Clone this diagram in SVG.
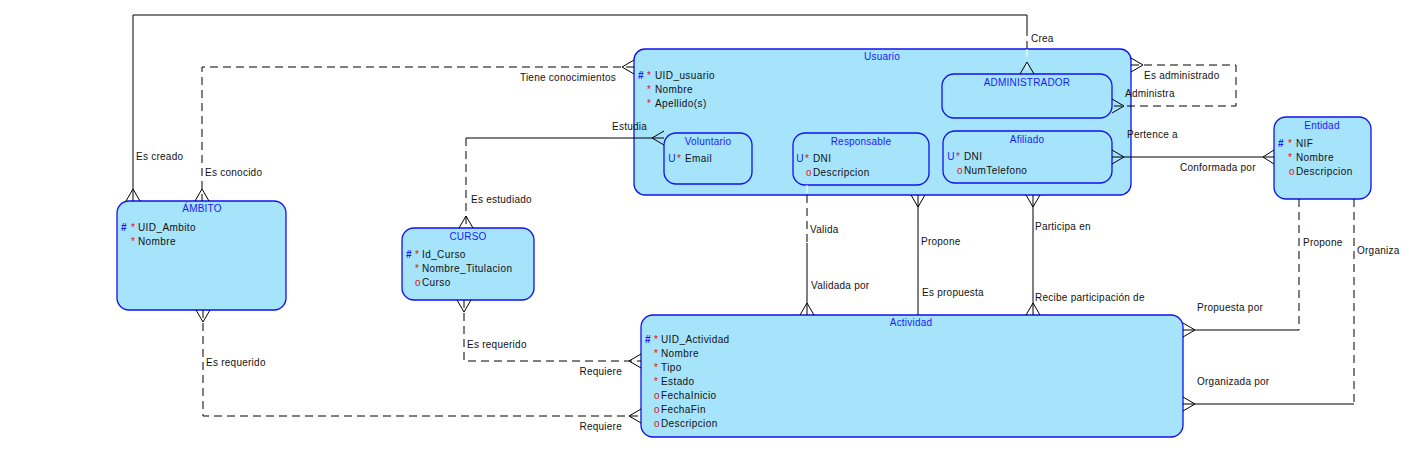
<svg xmlns="http://www.w3.org/2000/svg" width="1422" height="459" viewBox="0 0 1422 459">
<style>
.ent{fill:#a6e4fc;stroke:#1010f0;stroke-width:1.3}
.sub{fill:#a6e4fc;stroke:#1010f0;stroke-width:1.3}
.t{font-family:"Liberation Sans",Arial,sans-serif;font-size:10px;fill:#1a1aff;text-anchor:middle;letter-spacing:0.2px}
.a{font-family:"Liberation Sans",Arial,sans-serif;font-size:10px;fill:#111;letter-spacing:0.4px}
.b{font-family:"Liberation Sans",Arial,sans-serif;font-size:10px;fill:#1a1aff;font-weight:bold}
.r{font-family:"Liberation Sans",Arial,sans-serif;font-size:10px;fill:#e01010}
.l{font-family:"Liberation Sans",Arial,sans-serif;font-size:10px;fill:#111;letter-spacing:0.25px}
.s{fill:none;stroke:#000;stroke-width:1}
.d{fill:none;stroke:#000;stroke-width:1;stroke-dasharray:8,5}
.w{fill:none;stroke:#fff;stroke-width:1;stroke-dasharray:8,5}
.cf{fill:none;stroke:#000;stroke-width:1}
</style>
<rect width="1422" height="459" fill="#fff"/>

<g id="usuario">
<rect class="ent" x="634" y="49" width="497" height="146" rx="11"/>
<text class="t" x="882" y="60">Usuario</text>
<text class="b" x="638" y="78.5">#</text><text class="r" x="647" y="78.5">*</text><text class="a" x="655" y="78.5">UID_usuario</text>
<text class="r" x="647" y="92.5">*</text><text class="a" x="655" y="92.5">Nombre</text>
<text class="r" x="647" y="106.5">*</text><text class="a" x="655" y="106.5">Apellido(s)</text>
</g>
<g id="voluntario">
<rect class="sub" x="664" y="133" width="88" height="51" rx="12"/>
<text class="t" x="708" y="144.5">Voluntario</text>
<text class="t" x="672" y="161.5">U</text><text class="r" x="677" y="161.5">*</text><text class="a" x="685" y="161.5">Email</text>
</g>
<g id="responsable">
<rect class="sub" x="793" y="133" width="136" height="52" rx="12"/>
<text class="t" x="861" y="144.5">Responsable</text>
<text class="t" x="800" y="161.5">U</text><text class="r" x="805" y="161.5">*</text><text class="a" x="813" y="161.5">DNI</text>
<text class="r" x="806" y="175.5">o</text><text class="a" x="813" y="175.5">Descripcion</text>
</g>
<g id="administrador">
<rect class="sub" x="942" y="74" width="170" height="44" rx="12"/>
<text class="t" x="1027" y="85.5">ADMINISTRADOR</text>
</g>
<g id="afiliado">
<rect class="sub" x="943" y="131" width="169" height="52" rx="12"/>
<text class="t" x="1027" y="142.5">Afiliado</text>
<text class="t" x="951" y="159.5">U</text><text class="r" x="956" y="159.5">*</text><text class="a" x="964" y="159.5">DNI</text>
<text class="r" x="957" y="173.5">o</text><text class="a" x="964" y="173.5">NumTelefono</text>
</g>
<g id="entidad">
<rect class="ent" x="1274" y="117" width="97" height="82" rx="12"/>
<text class="t" x="1322" y="128.5">Entidad</text>
<text class="b" x="1278" y="146.5">#</text><text class="r" x="1288" y="146.5">*</text><text class="a" x="1296" y="146.5">NIF</text>
<text class="r" x="1288" y="160.5">*</text><text class="a" x="1296" y="160.5">Nombre</text>
<text class="r" x="1289" y="174.5">o</text><text class="a" x="1296" y="174.5">Descripcion</text>
</g>
<g id="ambito">
<rect class="ent" x="117" y="201" width="169" height="109" rx="12"/>
<text class="t" x="202" y="212">ÁMBITO</text>
<text class="b" x="121" y="230.5">#</text><text class="r" x="131" y="230.5">*</text><text class="a" x="138" y="230.5">UID_Ambito</text>
<text class="r" x="131" y="244.5">*</text><text class="a" x="138" y="244.5">Nombre</text>
</g>
<g id="curso">
<rect class="ent" x="402" y="228" width="132" height="72" rx="12"/>
<text class="t" x="468" y="239.5">CURSO</text>
<text class="b" x="406" y="257.5">#</text><text class="r" x="415" y="257.5">*</text><text class="a" x="422" y="257.5">Id_Curso</text>
<text class="r" x="415" y="271.5">*</text><text class="a" x="422" y="271.5">Nombre_Titulacion</text>
<text class="r" x="415" y="285.5">o</text><text class="a" x="422" y="285.5">Curso</text>
</g>
<g id="actividad">
<rect class="ent" x="641" y="315" width="542" height="122" rx="12"/>
<text class="t" x="911" y="325.5">Actividad</text>
<text class="b" x="645" y="342.5">#</text><text class="r" x="654" y="342.5">*</text><text class="a" x="661" y="342.5">UID_Actividad</text>
<text class="r" x="654" y="356.5">*</text><text class="a" x="661" y="356.5">Nombre</text>
<text class="r" x="654" y="370.5">*</text><text class="a" x="661" y="370.5">Tipo</text>
<text class="r" x="654" y="384.5">*</text><text class="a" x="661" y="384.5">Estado</text>
<text class="r" x="654" y="398.5">o</text><text class="a" x="661" y="398.5">FechaInicio</text>
<text class="r" x="654" y="412.5">o</text><text class="a" x="661" y="412.5">FechaFin</text>
<text class="r" x="654" y="426.5">o</text><text class="a" x="661" y="426.5">Descripcion</text>
</g>

<g id="connectors">
<path class="d" d="M634,67 H202 V201"/>
<path class="cf" d="M634,60 L622,67 L634,74"/>
<path class="cf" d="M195,201 L202,189 L209,201"/>
<text class="l" x="616" y="81" text-anchor="end">Tiene conocimientos</text>
<text class="l" x="205" y="176">Es conocido</text>

<path class="s" d="M133,201 V15 H1027 V28"/>
<path class="d" d="M1027,28 V49"/>
<path class="w" d="M1027,49 V74"/>
<path class="cf" d="M126,201 L133,189 L140,201"/>
<path class="cf" d="M1020,74 L1027,62 L1034,74"/>
<text class="l" x="1031" y="42">Crea</text>
<text class="l" x="136" y="160">Es creado</text>

<path class="s" d="M664,138 H466"/>
<path class="d" d="M466,138 V228"/>
<path class="cf" d="M664,131 L652,138 L664,145"/>
<path class="cf" d="M459,228 L466,216 L473,228"/>
<text class="l" x="612" y="130">Estudia</text>
<text class="l" x="471" y="203">Es estudiado</text>

<path class="d" d="M464,300 V361 H641"/>
<path class="cf" d="M457,300 L464,312 L471,300"/>
<path class="cf" d="M641,354 L629,361 L641,368"/>
<text class="l" x="467" y="348">Es requerido</text>
<text class="l" x="622" y="375" text-anchor="end">Requiere</text>

<path class="d" d="M203,310 V416 H641"/>
<path class="cf" d="M196,310 L203,322 L210,310"/>
<path class="cf" d="M641,409 L629,416 L641,423"/>
<text class="l" x="206" y="366">Es requerido</text>
<text class="l" x="622" y="430" text-anchor="end">Requiere</text>

<path class="w" d="M807,185 V195"/>
<path class="d" d="M807,195 V243"/>
<path class="s" d="M807,243 V315"/>
<path class="cf" d="M800,315 L807,303 L814,315"/>
<text class="l" x="810" y="233">Valida</text>
<text class="l" x="811" y="289">Validada por</text>

<path class="s" d="M918,195 V315"/>
<path class="cf" d="M911,195 L918,207 L925,195"/>
<text class="l" x="921" y="245">Propone</text>
<text class="l" x="922" y="296">Es propuesta</text>

<path class="s" d="M1033,195 V315"/>
<path class="cf" d="M1026,195 L1033,207 L1040,195"/>
<path class="cf" d="M1026,315 L1033,303 L1040,315"/>
<text class="l" x="1035" y="230">Participa en</text>
<text class="l" x="1035" y="301">Recibe participación de</text>

<path class="d" d="M1131,65 H1236 V106 H1112"/>
<path class="cf" d="M1131,58 L1143,65 L1131,72"/>
<path class="cf" d="M1112,99 L1124,106 L1112,113"/>
<text class="l" x="1144" y="79">Es administrado</text>
<text class="l" x="1125" y="97">Administra</text>

<path class="s" d="M1112,157 H1274"/>
<path class="cf" d="M1112,150 L1124,157 L1112,164"/>
<path class="cf" d="M1274,150 L1263,157 L1274,164"/>
<text class="l" x="1127" y="138">Pertence a</text>
<text class="l" x="1180" y="171">Conformada por</text>

<path class="d" d="M1299,199 V330"/>
<path class="s" d="M1299,330 H1183"/>
<path class="cf" d="M1183,323 L1195,330 L1183,337"/>
<text class="l" x="1303" y="246">Propone</text>
<text class="l" x="1197" y="311">Propuesta por</text>

<path class="d" d="M1354,199 V404"/>
<path class="s" d="M1354,404 H1183"/>
<path class="cf" d="M1183,397 L1195,404 L1183,411"/>
<text class="l" x="1357" y="254">Organiza</text>
<text class="l" x="1197" y="385">Organizada por</text>
</g>
</svg>
